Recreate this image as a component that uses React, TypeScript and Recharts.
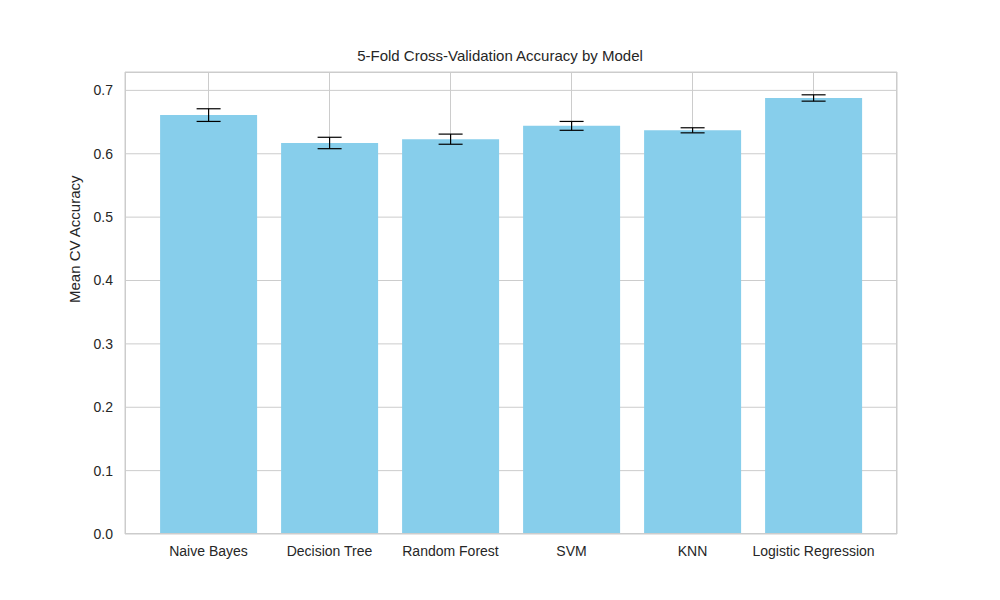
import React from 'react';
import { BarChart, Bar, XAxis, YAxis, CartesianGrid, ErrorBar } from 'recharts';

const models = ['Naive Bayes', 'Decision Tree', 'Random Forest', 'SVM', 'KNN', 'Logistic Regression'];
const meanAccuracy = [0.661, 0.617, 0.623, 0.644, 0.637, 0.688];
const stdAccuracy = [0.01, 0.009, 0.008, 0.007, 0.004, 0.005];
const yTicks = [0, 0.1, 0.2, 0.3, 0.4, 0.5, 0.6, 0.7];

const data = models.map((m, i) => ({ model: m, acc: meanAccuracy[i], err: stdAccuracy[i] }));

const font = '"Liberation Sans", Arial, sans-serif';

export default function App() {
  return (
    <div style={{ position: 'absolute', left: 0, top: 0, width: 1000, height: 600, background: '#fff', fontFamily: font }}>
      <div style={{ position: 'absolute', top: 47, width: 1000, textAlign: 'center', fontSize: 15, color: '#262626' }}>
        5-Fold Cross-Validation Accuracy by Model
      </div>
      <BarChart
        width={1000}
        height={600}
        data={data}
        margin={{ top: 72, right: 103, bottom: 36, left: 65 }}
        barCategoryGap="10%"
      >
        <CartesianGrid stroke="#cccccc" strokeWidth={1} />
        <XAxis
          dataKey="model"
          height={30}
          padding={{ left: 23, right: 23 }}
          axisLine={false}
          tickLine={false}
          tick={{ fill: '#262626', fontSize: 14, fontFamily: font }}
          tickMargin={6}
        />
        <YAxis
          width={60}
          domain={[0, 0.729]}
          ticks={yTicks}
          axisLine={false}
          tickLine={false}
          tickFormatter={(v: number) => v.toFixed(1)}
          tick={{ fill: '#262626', fontSize: 14, fontFamily: font }}
          tickMargin={6}
          label={{ value: 'Mean CV Accuracy', angle: -90, position: 'insideLeft', offset: 10, fill: '#262626', fontSize: 15, fontFamily: font }}
        />
        <Bar dataKey="acc" fill="#87ceeb" isAnimationActive={false}>
          <ErrorBar dataKey="err" stroke="#000" strokeWidth={1.2} width={12} />
        </Bar>
      </BarChart>
      <div style={{ position: 'absolute', left: 125, top: 72, width: 772, height: 462, border: '1px solid #cccccc', boxSizing: 'border-box', pointerEvents: 'none' }} />
    </div>
  );
}
